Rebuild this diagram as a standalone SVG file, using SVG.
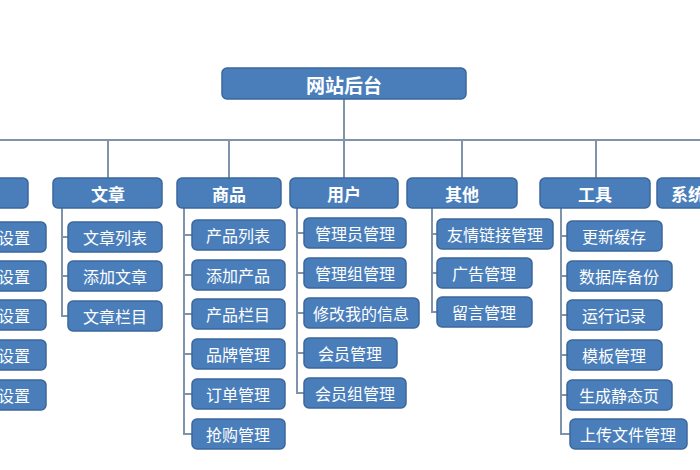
<svg xmlns="http://www.w3.org/2000/svg" width="700" height="470" viewBox="0 0 700 470">
<style>
rect{fill:#4a7ebb;stroke:#3b679c;stroke-width:1.5}
text{fill:#fff;font-family:"Noto Sans CJK SC",sans-serif;font-size:16px;text-anchor:middle;dominant-baseline:central}
.h{font-weight:bold;font-size:17px}
.r{font-size:19px}
#conn path{fill:none;stroke:#7f93ab;stroke-width:2}
</style>
<rect x="0" y="0" width="700" height="470" style="fill:#fff;stroke:none"/>
<g id="conn"><path d="M344 99V140M0 140H700M108 140V178M229 140V178M344 140V178M462 140V178M596 140V178
M62 208V316H68M62 237H68M62 276H68
M184 208V434H192M184 235H192M184 275H192M184 314H192M184 354H192M184 394H192
M297 208V393H304M297 233H304M297 273H304M297 313H304M297 353H304
M432 208V312H437M432 234H437M432 273H437
M561 208V434H570M561 236H567M561 276H567M561 315H567M561 355H567M561 395H567"/></g>
<g id="root"><rect x="222" y="68" width="244" height="31" rx="5"/><text x="344" y="84" class="h r">网站后台</text></g>
<g id="c0"><rect x="-60" y="178" width="88" height="30" rx="5"/></g>
<g id="c1"><rect x="53" y="178" width="109" height="30" rx="5"/><text x="108" y="193" class="h">文章</text></g>
<g id="c2"><rect x="177" y="178" width="104" height="30" rx="5"/><text x="229" y="193" class="h">商品</text></g>
<g id="c3"><rect x="290" y="178" width="108" height="30" rx="5"/><text x="344" y="193" class="h">用户</text></g>
<g id="c4"><rect x="407" y="178" width="110" height="30" rx="5"/><text x="462" y="193" class="h">其他</text></g>
<g id="c5"><rect x="540" y="178" width="110" height="30" rx="5"/><text x="595" y="193" class="h">工具</text></g>
<g id="c6"><rect x="657" y="178" width="90" height="30" rx="5"/><text x="688" y="193" class="h">系统</text></g>
<g id="l0"><rect x="-50" y="222" width="96" height="30" rx="5"/><text x="14" y="237">设置</text></g>
<g id="l1"><rect x="-50" y="261" width="96" height="30" rx="5"/><text x="14" y="276">设置</text></g>
<g id="l2"><rect x="-50" y="300" width="96" height="30" rx="5"/><text x="14" y="315">设置</text></g>
<g id="l3"><rect x="-50" y="340" width="96" height="30" rx="5"/><text x="14" y="355">设置</text></g>
<g id="l4"><rect x="-50" y="380" width="96" height="30" rx="5"/><text x="14" y="395">设置</text></g>
<g id="a1"><rect x="68" y="222" width="94" height="30" rx="5"/><text x="115" y="237">文章列表</text></g>
<g id="a2"><rect x="68" y="261" width="94" height="30" rx="5"/><text x="115" y="276">添加文章</text></g>
<g id="a3"><rect x="68" y="301" width="94" height="30" rx="5"/><text x="115" y="316">文章栏目</text></g>
<g id="p1"><rect x="192" y="220" width="93" height="30" rx="5"/><text x="238" y="235">产品列表</text></g>
<g id="p2"><rect x="192" y="260" width="93" height="30" rx="5"/><text x="238" y="275">添加产品</text></g>
<g id="p3"><rect x="192" y="299" width="93" height="30" rx="5"/><text x="238" y="314">产品栏目</text></g>
<g id="p4"><rect x="192" y="339" width="93" height="30" rx="5"/><text x="238" y="354">品牌管理</text></g>
<g id="p5"><rect x="192" y="379" width="93" height="30" rx="5"/><text x="238" y="394">订单管理</text></g>
<g id="p6"><rect x="192" y="419" width="93" height="30" rx="5"/><text x="238" y="434">抢购管理</text></g>
<g id="u1"><rect x="304" y="218" width="102" height="30" rx="5"/><text x="355" y="233">管理员管理</text></g>
<g id="u2"><rect x="304" y="258" width="102" height="30" rx="5"/><text x="355" y="273">管理组管理</text></g>
<g id="u3"><rect x="304" y="298" width="115" height="30" rx="5"/><text x="361" y="313">修改我的信息</text></g>
<g id="u4"><rect x="304" y="338" width="93" height="30" rx="5"/><text x="350" y="353">会员管理</text></g>
<g id="u5"><rect x="304" y="378" width="102" height="30" rx="5"/><text x="355" y="393">会员组管理</text></g>
<g id="o1"><rect x="437" y="219" width="116" height="30" rx="5"/><text x="495" y="234">友情链接管理</text></g>
<g id="o2"><rect x="437" y="258" width="95" height="30" rx="5"/><text x="484" y="273">广告管理</text></g>
<g id="o3"><rect x="437" y="297" width="95" height="30" rx="5"/><text x="484" y="312">留言管理</text></g>
<g id="t1"><rect x="567" y="221" width="95" height="30" rx="5"/><text x="614" y="236">更新缓存</text></g>
<g id="t2"><rect x="567" y="261" width="105" height="30" rx="5"/><text x="619" y="276">数据库备份</text></g>
<g id="t3"><rect x="567" y="300" width="95" height="30" rx="5"/><text x="614" y="315">运行记录</text></g>
<g id="t4"><rect x="567" y="340" width="95" height="30" rx="5"/><text x="614" y="355">模板管理</text></g>
<g id="t5"><rect x="567" y="380" width="105" height="30" rx="5"/><text x="619" y="395">生成静态页</text></g>
<g id="t6"><rect x="570" y="419" width="117" height="30" rx="5"/><text x="628" y="434">上传文件管理</text></g>
</svg>
